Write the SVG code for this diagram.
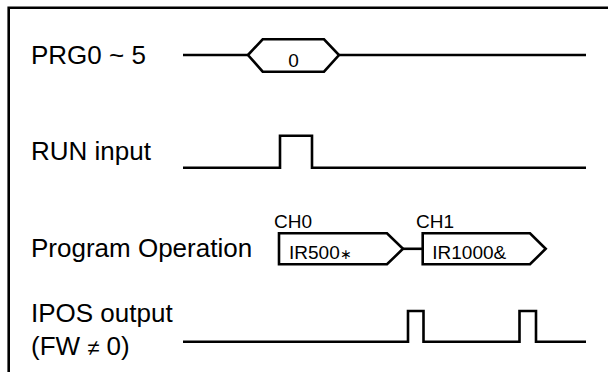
<svg xmlns="http://www.w3.org/2000/svg" width="608" height="372" viewBox="0 0 608 372">
<style>
.ln{fill:none;stroke:#000;stroke-width:2.6;stroke-linejoin:miter;stroke-linecap:butt}
.lbl{font-family:"Liberation Sans",Arial,sans-serif;font-size:26px;fill:#000}
.sm{font-family:"Liberation Sans",Arial,sans-serif;font-size:19px;fill:#000}
</style>
<rect width="608" height="372" fill="#fff"/>
<path class="ln" d="M608,7.7 H8.7 V372"/>
<g id="prg">
<text class="lbl" x="31" y="64">PRG0 ~ 5</text>
<path class="ln" d="M183,55 H248 M339,55 H586"/>
<polygon class="ln" points="248,55 262.7,39.3 324,39.3 339,55 324,71.7 262.7,71.7"/>
<text class="sm" x="293.5" y="66.5" text-anchor="middle">0</text>
</g>
<g id="run">
<text class="lbl" x="31" y="159.5">RUN input</text>
<path class="ln" d="M183,167.7 H280 V135.7 H312 V167.7 H586"/>
</g>
<g id="prog">
<text class="lbl" x="31" y="256.7">Program Operation</text>
<g id="ch0">
<text class="sm" x="274" y="228.3">CH0</text>
<polygon class="ln" points="279,233.3 387,233.3 403,248.8 387,264.3 279,264.3"/>
<text class="sm" x="289" y="258.5">IR500<tspan font-size="14">∗</tspan></text>
</g>
<g id="ch1">
<text class="sm" x="416" y="228.3">CH1</text>
<polygon class="ln" points="422.7,233.3 530,233.3 545.7,248.8 530,264.3 422.7,264.3"/>
<text class="sm" x="432.3" y="259">IR1000&amp;</text>
</g>
<g id="connectors">
<path class="ln" d="M403,248.8 H422.7"/>
</g>
</g>
<g id="ipos">
<text class="lbl" x="31" y="321.7">IPOS output</text>
<text class="lbl" x="31" y="355">(FW <tspan font-size="22">≠</tspan> 0)</text>
<path class="ln" d="M183,341.7 H408 V311 H423.5 V341.7 H519.5 V311 H536 V341.7 H586"/>
</g>
</svg>
